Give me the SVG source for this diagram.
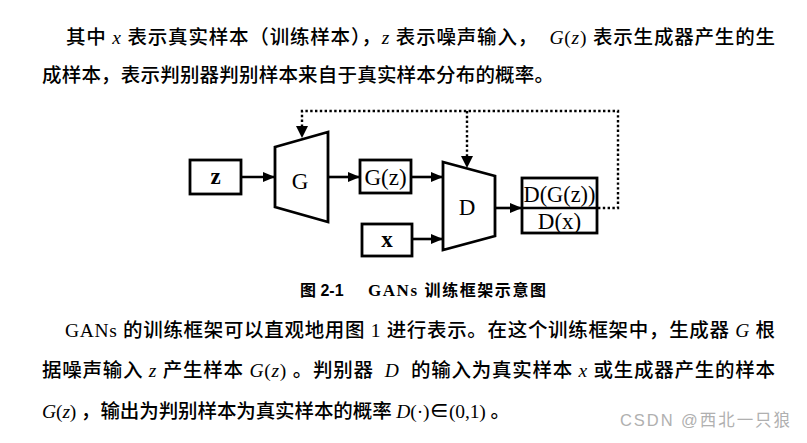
<svg xmlns="http://www.w3.org/2000/svg" width="807" height="443" viewBox="0 0 807 443">
<style>
.t{font-family:"Liberation Serif","Noto Sans CJK SC",serif;font-size:19.5px;font-weight:500;fill:#000;white-space:pre}
.i{font-style:italic}
.cap{font-family:"Liberation Sans","Noto Sans CJK SC",sans-serif;font-size:16px;font-weight:bold;fill:#000}
.lbl{font-family:"Liberation Serif",serif;font-size:23px;fill:#000;text-anchor:middle}
.box{fill:#fff;stroke:#000;stroke-width:2.8}
.ln{fill:none;stroke:#000;stroke-width:2.6}
.dot{fill:none;stroke:#000;stroke-width:2.4;stroke-dasharray:2.4 2.4}
.wm{font-family:"Liberation Sans","Noto Sans CJK SC",sans-serif;font-size:16.5px;fill:#b0b0b0}
</style>
<defs>
<marker id="ah" viewBox="0 0 12 10" refX="12" refY="5" markerWidth="12" markerHeight="10" markerUnits="userSpaceOnUse" orient="auto">
<path d="M0,0 L12,5 L0,10 z" fill="#000"/>
</marker>
</defs>
<rect width="807" height="443" fill="#fff"/>

<text class="t" x="66" y="44" textLength="709" lengthAdjust="spacing">其中 <tspan class="i">x</tspan> 表示真实样本（训练样本），<tspan class="i">z</tspan> 表示噪声输入，  <tspan class="i">G</tspan>(<tspan class="i">z</tspan>) 表示生成器产生的生</text>
<text class="t" x="42" y="82" textLength="512" lengthAdjust="spacing">成样本，表示判别器判别样本来自于真实样本分布的概率。</text>

<g id="connectors">
<line class="ln" x1="241" y1="177" x2="275" y2="177" marker-end="url(#ah)"/>
<line class="ln" x1="328" y1="177" x2="360" y2="177" marker-end="url(#ah)"/>
<line class="ln" x1="411" y1="177" x2="443" y2="177" marker-end="url(#ah)"/>
<line class="ln" x1="412" y1="239" x2="443" y2="239" marker-end="url(#ah)"/>
<line class="ln" x1="495" y1="208" x2="522" y2="208" marker-end="url(#ah)"/>
<polyline class="dot" points="598,208 618,208 618,111 302,111 302,126"/>
<line class="dot" x1="467" y1="111" x2="467" y2="156"/>
<path d="M296,126 L308,126 L302,138 z" fill="#000"/>
<path d="M461,156 L473,156 L467,168 z" fill="#000"/>
</g>

<g id="node-z">
<rect class="box" x="190" y="160" width="51" height="34"/>
<text class="lbl" x="215.5" y="184" font-weight="bold" font-size="21">z</text>
</g>
<g id="node-G">
<polygon class="box" points="275,147 328,132 328,222 275,207"/>
<text class="lbl" x="300" y="189">G</text>
</g>
<g id="node-Gz">
<rect class="box" x="360" y="160" width="51" height="33"/>
<text class="lbl" x="385.5" y="185">G(z)</text>
</g>
<g id="node-x">
<rect class="box" x="362" y="224" width="50" height="32"/>
<text class="lbl" x="387" y="247" font-weight="bold" font-size="21">x</text>
</g>
<g id="node-D">
<polygon class="box" points="443,162 495,176 495,236 443,250"/>
<text class="lbl" x="467" y="215">D</text>
</g>
<g id="node-out">
<rect class="box" x="522" y="178" width="75" height="55"/>
<line class="ln" x1="522" y1="208" x2="597" y2="208" stroke-width="3"/>
<text class="lbl" x="559.5" y="202" textLength="72" lengthAdjust="spacingAndGlyphs">D(G(z))</text>
<text class="lbl" x="559.5" y="229">D(x)</text>
</g>

<text class="cap" x="300" y="296">图 2-1</text>
<text class="cap" x="368" y="296" textLength="178" lengthAdjust="spacing"><tspan font-family="Liberation Serif" font-size="17">GANs</tspan> 训练框架示意图</text>

<text class="t" x="65" y="337" textLength="710" lengthAdjust="spacing">GANs 的训练框架可以直观地用图 1 进行表示。在这个训练框架中，生成器 <tspan class="i">G</tspan> 根</text>
<text class="t" x="42" y="377" textLength="733" lengthAdjust="spacing">据噪声输入 <tspan class="i">z</tspan> 产生样本 <tspan class="i">G</tspan>(<tspan class="i">z</tspan>) 。判别器  <tspan class="i">D</tspan>  的输入为真实样本 <tspan class="i">x</tspan> 或生成器产生的样本</text>
<text class="t" x="42" y="418" textLength="468" lengthAdjust="spacing"><tspan class="i">G</tspan>(<tspan class="i">z</tspan>) ，输出为判别样本为真实样本的概率 <tspan class="i">D</tspan>(·)∈(0,1) 。</text>

<text class="wm" x="620" y="426" textLength="170" lengthAdjust="spacing">CSDN @西北一只狼</text>
</svg>
